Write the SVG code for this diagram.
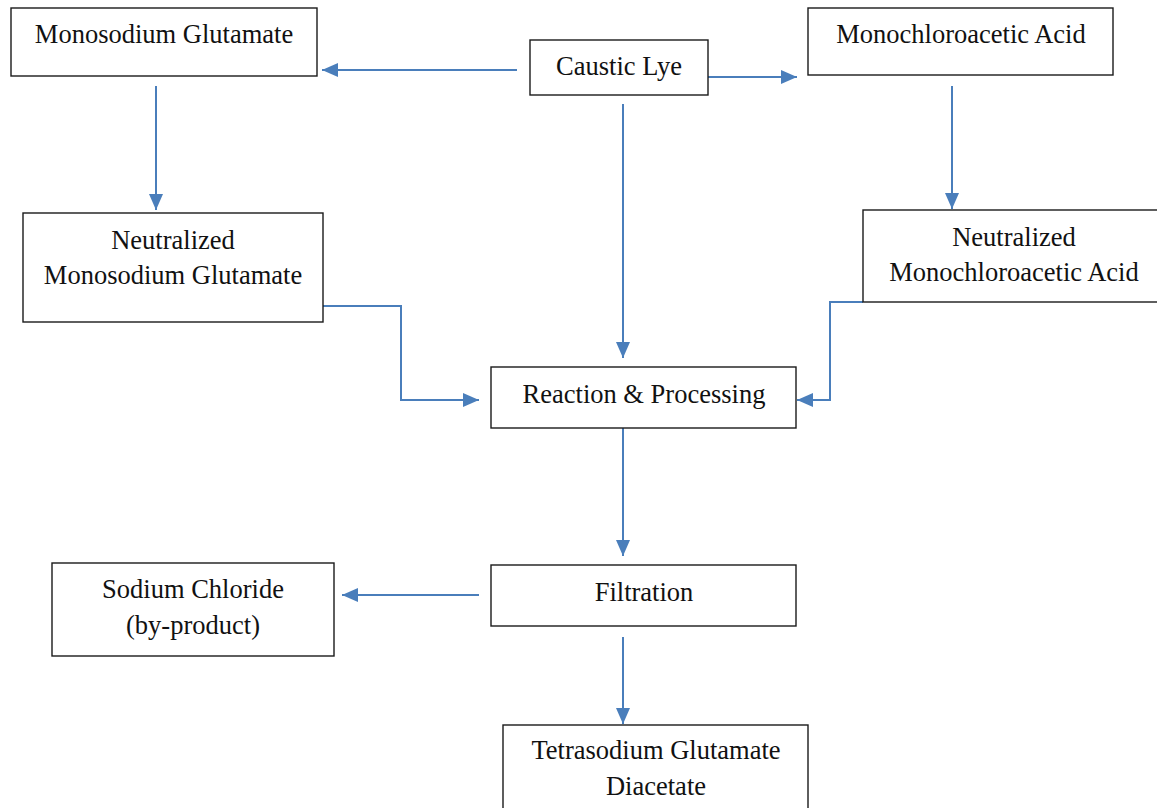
<svg xmlns="http://www.w3.org/2000/svg" width="1157" height="808" viewBox="0 0 1157 808">
<defs>
<marker id="ah" markerUnits="userSpaceOnUse" markerWidth="18" markerHeight="16" refX="16" refY="7" orient="auto">
<path d="M0,0 L16,7 L0,14 Z" fill="#4a7ebb"/>
</marker>
<style>
.box{fill:#fff;stroke:#1a1a1a;stroke-width:1.4}
.t{font-family:"Liberation Serif","Times New Roman",serif;font-size:26.5px;fill:#111;text-anchor:middle}
.c{fill:none;stroke:#4a7ebb;stroke-width:2;marker-end:url(#ah)}
</style>
</defs>
<rect width="1157" height="808" fill="#fff"/>
<g id="connectors">
<line class="c" x1="517" y1="70" x2="322" y2="70"/>
<line class="c" x1="708" y1="77" x2="797" y2="77"/>
<line class="c" x1="623" y1="104" x2="623" y2="358"/>
<line class="c" x1="156" y1="86" x2="156" y2="210"/>
<line class="c" x1="952" y1="86" x2="952" y2="209"/>
<polyline class="c" points="323,306 401,306 401,400 479,400"/>
<polyline class="c" points="863,302 830,302 830,400 797,400"/>
<line class="c" x1="623" y1="428" x2="623" y2="556"/>
<line class="c" x1="479" y1="595" x2="342" y2="595"/>
<line class="c" x1="623" y1="637" x2="623" y2="724"/>
</g>
<g id="msg"><rect class="box" x="11" y="8" width="306" height="68"/><text class="t" x="164" y="43">Monosodium Glutamate</text></g>
<g id="lye"><rect class="box" x="530" y="40" width="178" height="55"/><text class="t" x="619" y="75">Caustic Lye</text></g>
<g id="mca"><rect class="box" x="808" y="8" width="305" height="67"/><text class="t" x="961" y="43">Monochloroacetic Acid</text></g>
<g id="nmsg"><rect class="box" x="23" y="213" width="300" height="109"/><text class="t" x="173" y="249">Neutralized</text><text class="t" x="173" y="284">Monosodium Glutamate</text></g>
<g id="nmca"><rect class="box" x="863" y="210" width="300" height="92"/><text class="t" x="1014" y="246">Neutralized</text><text class="t" x="1014" y="281">Monochloroacetic Acid</text></g>
<g id="reaction"><rect class="box" x="491" y="367" width="305" height="61"/><text class="t" x="644" y="403">Reaction &amp; Processing</text></g>
<g id="filtration"><rect class="box" x="491" y="565" width="305" height="61"/><text class="t" x="644" y="601">Filtration</text></g>
<g id="nacl"><rect class="box" x="52" y="563" width="282" height="93"/><text class="t" x="193" y="598">Sodium Chloride</text><text class="t" x="193" y="634">(by-product)</text></g>
<g id="tgd"><rect class="box" x="503" y="725" width="305" height="95"/><text class="t" x="656" y="759">Tetrasodium Glutamate</text><text class="t" x="656" y="795">Diacetate</text></g>
</svg>
